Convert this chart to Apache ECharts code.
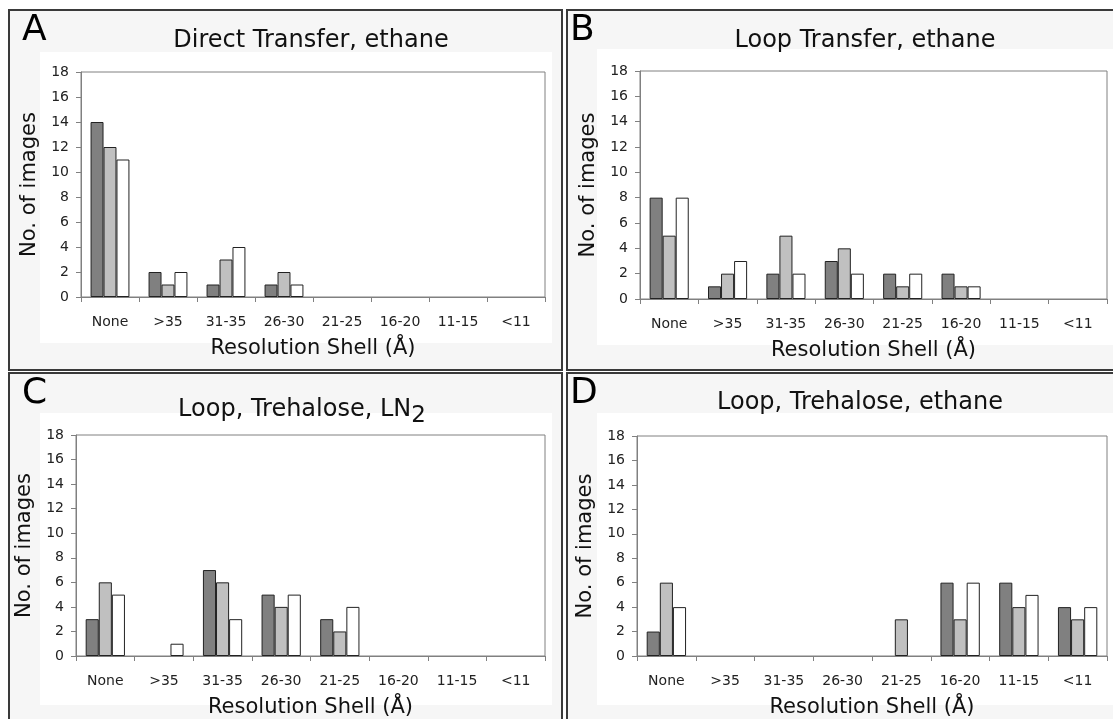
<!DOCTYPE html>
<html><head><meta charset="utf-8">
<script src="https://cdn.jsdelivr.net/npm/echarts@6/dist/echarts.min.js"></script>
<style>html,body{margin:0;padding:0;background:#fff}#c{width:1113px;height:719px}</style>
</head><body><div id="c"></div>
<script>
const categories = ['None', '>35', '31-35', '26-30', '21-25', '16-20', '11-15', '<11'];
const yTicks = [0, 2, 4, 6, 8, 10, 12, 14, 16, 18];

const panelLetters = ['A', 'B', 'C', 'D'];
const panelTitles = ['Direct Transfer, ethane', 'Loop Transfer, ethane', 'Loop, Trehalose, LN{sub|2}', 'Loop, Trehalose, ethane'];

const aDark  = [14, 2, 1, 1, 0, 0, 0, 0];
const aLight = [12, 1, 3, 2, 0, 0, 0, 0];
const aWhite = [11, 2, 4, 1, 0, 0, 0, 0];

const bDark  = [8, 1, 2, 3, 2, 2, 0, 0];
const bLight = [5, 2, 5, 4, 1, 1, 0, 0];
const bWhite = [8, 3, 2, 2, 2, 1, 0, 0];

const cDark  = [3, 0, 7, 5, 3, 0, 0, 0];
const cLight = [6, 0, 6, 4, 2, 0, 0, 0];
const cWhite = [5, 1, 3, 5, 4, 0, 0, 0];

const dDark  = [2, 0, 0, 0, 0, 6, 6, 4];
const dLight = [6, 0, 0, 0, 3, 3, 4, 3];
const dWhite = [4, 0, 0, 0, 0, 6, 5, 4];

const panelData = [[aDark, aLight, aWhite], [bDark, bLight, bWhite], [cDark, cLight, cWhite], [dDark, dLight, dWhite]];

const FONT = 'DejaVu Sans';
const barColors = ['#808080', '#c0c0c0', '#ffffff'];

// layout (pixels)
const grids = [
  {left: 81, right: 568, top: 72, bottom: 422},
  {left: 640, right: 6, top: 71, bottom: 420},
  {left: 76, right: 568, top: 435, bottom: 60},
  {left: 637, right: 6, top: 436, bottom: 57}
];
const borders = [
  {x: 9, y: 10, w: 553, h: 360},
  {x: 567, y: 10, w: 560, h: 360},
  {x: 9, y: 373, w: 553, h: 360},
  {x: 567, y: 373, w: 560, h: 360}
];
const inner = [
  {x: 40, y: 52, w: 512, h: 291},
  {x: 597, y: 49, w: 520, h: 296},
  {x: 40, y: 413, w: 512, h: 292},
  {x: 597, y: 413, w: 520, h: 292}
];
const titlePos = [{x: 311, y: 29}, {x: 865, y: 29}, {x: 302, y: 391}, {x: 860, y: 391}];
const letterPos = [{x: 22, y: 13}, {x: 570, y: 13}, {x: 22, y: 376}, {x: 570, y: 376}];

const option = {
  backgroundColor: '#ffffff',
  animation: false,
  textStyle: {fontFamily: FONT},
  title: panelTitles.map((t, i) => ({
    text: t,
    left: titlePos[i].x,
    top: titlePos[i].y,
    textAlign: 'center',
    padding: 0,
    textStyle: {
      fontFamily: FONT, fontSize: 24, fontWeight: 'normal', color: '#111',
      rich: {sub: {fontFamily: FONT, fontSize: 23, color: '#111', padding: [14, 0, 0, 0]}}
    }
  })),
  graphic: [].concat(
    borders.map((b, i) => ({
      type: 'rect', z: -20, silent: true,
      shape: {x: b.x, y: b.y, width: b.w, height: b.h},
      style: {fill: '#f6f6f6', stroke: '#3a3a3a', lineWidth: 2}
    })),
    inner.map(r => ({
      type: 'rect', z: -10, silent: true,
      shape: {x: r.x, y: r.y, width: r.w, height: r.h},
      style: {fill: '#ffffff'}
    })),
    panelLetters.map((l, i) => ({
      type: 'text', z: 10, silent: true,
      left: letterPos[i].x, top: letterPos[i].y,
      style: {text: l, font: 'normal 36px "' + FONT + '"', fill: '#000'}
    }))
  ),
  grid: grids.map(g => Object.assign({show: true, borderColor: '#808080', borderWidth: 1, backgroundColor: 'transparent'}, g)),
  xAxis: grids.map((g, i) => ({
    type: 'category', gridIndex: i, data: categories,
    name: 'Resolution Shell (Å)', nameLocation: 'middle', nameGap: 41,
    nameTextStyle: {fontFamily: FONT, fontSize: 21, color: '#111'},
    axisLine: {lineStyle: {color: '#808080', width: 1}},
    axisTick: {show: true, length: 5, lineStyle: {color: '#808080'}},
    axisLabel: {fontFamily: FONT, fontSize: 14, color: '#222', margin: 18, interval: 0},
    splitLine: {show: false}
  })),
  yAxis: grids.map((g, i) => ({
    type: 'value', gridIndex: i, min: yTicks[0], max: yTicks[yTicks.length - 1], interval: 2,
    name: 'No. of images', nameLocation: 'middle', nameGap: 41,
    nameTextStyle: {fontFamily: FONT, fontSize: 21, color: '#111'},
    axisLine: {show: true, lineStyle: {color: '#808080', width: 1}},
    axisTick: {show: true, length: 5, lineStyle: {color: '#808080'}},
    axisLabel: {fontFamily: FONT, fontSize: 14, color: '#222', margin: 12},
    splitLine: {show: false}
  })),
  series: []
};

panelData.forEach((sets, i) => {
  sets.forEach((vals, k) => {
    option.series.push({
      type: 'bar', xAxisIndex: i, yAxisIndex: i,
      // zero-count bars are invisible in the original (no outline drawn)
      data: vals.map(v => (v === 0 ? null : v)),
      barGap: '0%', barCategoryGap: '33%',
      itemStyle: {color: barColors[k], borderColor: '#222', borderWidth: 1},
      emphasis: {disabled: true}
    });
  });
});

const chart = echarts.init(document.getElementById('c'), null, {renderer: 'canvas'});
chart.setOption(option);
</script>
</body></html>
